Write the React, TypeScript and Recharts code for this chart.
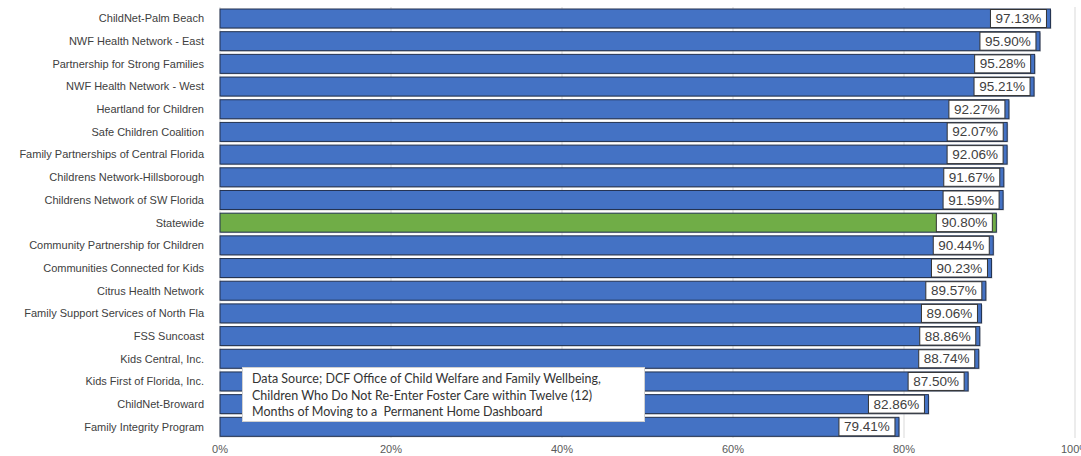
import React from "react";
import { Bar, BarChart, CartesianGrid, Cell, LabelList, XAxis, YAxis } from "recharts";

const agencies = [
  "ChildNet-Palm Beach",
  "NWF Health Network - East",
  "Partnership for Strong Families",
  "NWF Health Network - West",
  "Heartland for Children",
  "Safe Children Coalition",
  "Family Partnerships of Central Florida",
  "Childrens Network-Hillsborough",
  "Childrens Network of SW Florida",
  "Statewide",
  "Community Partnership for Children",
  "Communities Connected for Kids",
  "Citrus Health Network",
  "Family Support Services of North Fla",
  "FSS Suncoast",
  "Kids Central, Inc.",
  "Kids First of Florida, Inc.",
  "ChildNet-Broward",
  "Family Integrity Program",
];

const rates = [
  97.13, 95.9, 95.28, 95.21, 92.27, 92.07, 92.06, 91.67, 91.59, 90.8, 90.44, 90.23, 89.57, 89.06,
  88.86, 88.74, 87.5, 82.86, 79.41,
];

const xTicks = [0, 20, 40, 60, 80, 100];

const sourceLines = [
  "Data Source; DCF Office of Child Welfare and Family Wellbeing,",
  "Children Who Do Not Re-Enter Foster Care within Twelve (12)",
  "Months of Moving to a  Permanent Home Dashboard",
];

const data = agencies.map((name, i) => ({ name, rate: rates[i] }));

const BLUE = "#4472C4";
const GREEN = "#70AD47";
const FONT = "Liberation Sans, Arial, sans-serif";

function BarShape(props: any) {
  const { x, y, width, height, fill } = props;
  return (
    <g>
      <rect x={x + 1} y={y + 1} width={width} height={height} fill="#9a9a9a" opacity={0.5} />
      <rect x={x} y={y} width={width} height={height} fill={fill} stroke="#22314f" strokeWidth={1} />
    </g>
  );
}

function ValueLabel(props: any) {
  const { x, y, width, height, value } = props;
  const boxW = 56;
  const boxH = 18;
  const right = x + width - 4;
  const top = y + (height - boxH) / 2;
  return (
    <g>
      <rect x={right - boxW} y={top} width={boxW} height={boxH} fill="#fff" stroke="#333" strokeWidth={1} />
      <text
        x={right - boxW / 2}
        y={top + boxH / 2 + 1}
        textAnchor="middle"
        dominantBaseline="middle"
        fontSize={13.5}
        fontFamily={FONT}
        fill="#404040"
      >
        {value.toFixed(2)}%
      </text>
    </g>
  );
}

function CategoryTick(props: any) {
  const { x, y, payload } = props;
  return (
    <text x={x} y={y} dy={4} textAnchor="end" fontSize={11} fontFamily={FONT} fill="#404040">
      {payload.value}
    </text>
  );
}

function PercentTick(props: any) {
  const { x, y, payload } = props;
  return (
    <text x={x} y={y} dy={9} textAnchor="middle" fontSize={11} fontFamily={FONT} fill="#595959">
      {payload.value}%
    </text>
  );
}

export default function App() {
  return (
    <div style={{ position: "absolute", left: 0, top: 0, width: 1081, height: 456, background: "#fff" }}>
      <BarChart
        width={1081}
        height={456}
        data={data}
        layout="vertical"
        margin={{ top: 7, right: 6, bottom: 0, left: 0 }}
        barCategoryGap={2}
      >
        <CartesianGrid horizontal={false} stroke="#d9d9d9" />
        <XAxis
          type="number"
          domain={[0, 100]}
          ticks={xTicks}
          axisLine={false}
          tickLine={false}
          tickMargin={0}
          height={18}
          interval={0}
          tick={<PercentTick />}
        />
        <YAxis
          type="category"
          dataKey="name"
          width={220}
          axisLine={false}
          tickLine={false}
          tickMargin={10}
          interval={0}
          tick={<CategoryTick />}
        />
        <Bar dataKey="rate" shape={<BarShape />} isAnimationActive={false}>
          {data.map((d) => (
            <Cell key={d.name} fill={d.name === "Statewide" ? GREEN : BLUE} />
          ))}
          <LabelList dataKey="rate" content={<ValueLabel />} />
        </Bar>
      </BarChart>
      <div
        style={{
          position: "absolute",
          left: 242,
          top: 367,
          width: 403,
          height: 55,
          boxSizing: "border-box",
          background: "#fff",
          border: "1px solid #d0d0d0",
          padding: "3px 0 0 9px",
          fontFamily: "Lato, 'Open Sans', sans-serif",
          fontSize: 12.5,
          lineHeight: "16.5px",
          color: "#333",
          whiteSpace: "pre",
        }}
      >
        {sourceLines.map((line) => (
          <div key={line}>{line}</div>
        ))}
      </div>
    </div>
  );
}
